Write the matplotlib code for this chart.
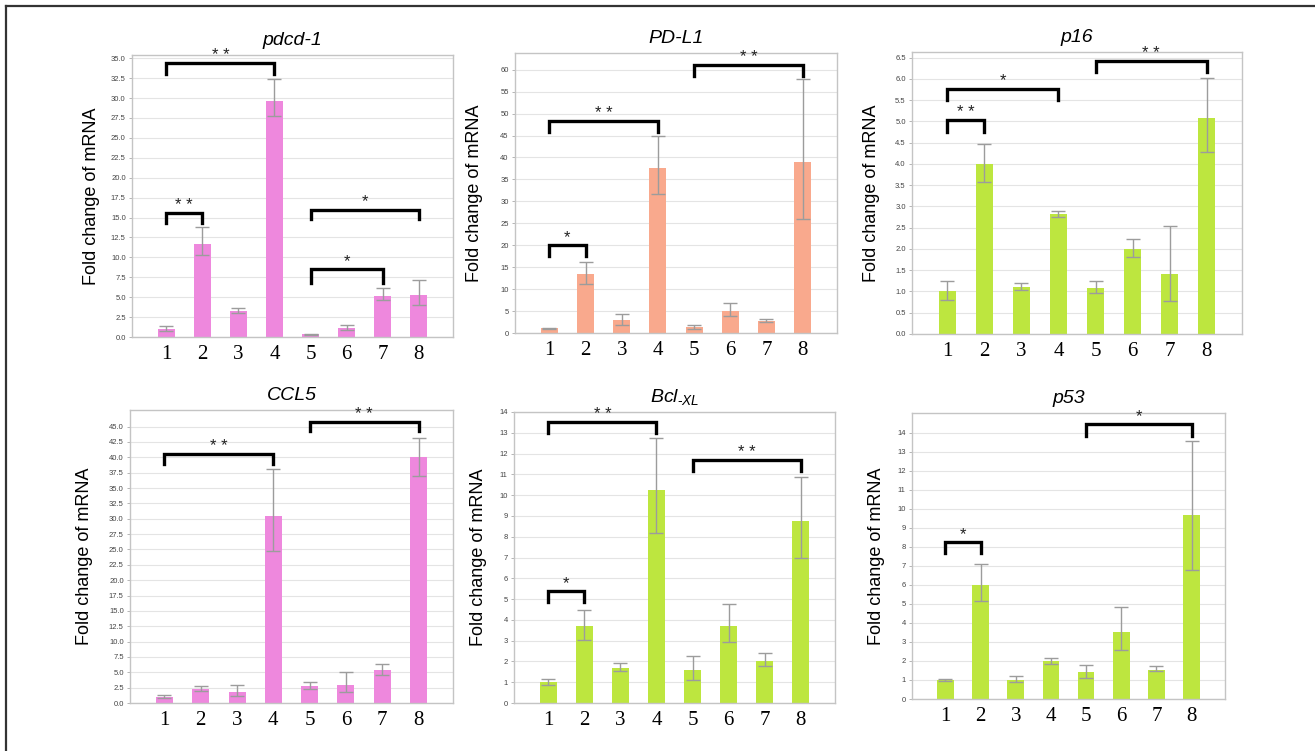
import matplotlib.pyplot as plt
from matplotlib.lines import Line2D
import numpy as np

plt.rcParams['font.family'] = 'Liberation Sans'
plt.rcParams['mathtext.fontset'] = 'custom'
plt.rcParams['mathtext.it'] = 'Liberation Sans:italic'
plt.rcParams['mathtext.rm'] = 'Liberation Sans'

groups = [1, 2, 3, 4, 5, 6, 7, 8]

# mean fold change, upper and lower ends of the error bars
pdcd1 = [1.0, 11.7, 3.25, 29.6, 0.35, 1.15, 5.2, 5.3]
pdcd1_top = [1.35, 13.8, 3.7, 32.4, 0.4, 1.5, 6.1, 7.2]
pdcd1_bot = [0.8, 10.3, 3.0, 27.7, 0.3, 0.9, 4.6, 4.0]

pdl1 = [1.1, 13.4, 2.9, 37.7, 1.3, 5.1, 2.8, 38.9]
pdl1_top = [1.2, 16.2, 4.4, 45.0, 1.75, 6.8, 3.2, 57.9]
pdl1_bot = [1.0, 11.2, 1.9, 31.7, 1.0, 3.8, 2.4, 26.0]

p16 = [1.0, 4.0, 1.1, 2.82, 1.08, 1.99, 1.41, 5.09]
p16_top = [1.25, 4.47, 1.2, 2.9, 1.24, 2.24, 2.53, 6.03]
p16_bot = [0.8, 3.58, 1.04, 2.75, 0.96, 1.8, 0.78, 4.29]

ccl5 = [1.0, 2.3, 1.8, 30.5, 2.7, 3.0, 5.3, 40.0]
ccl5_top = [1.25, 2.8, 2.9, 38.1, 3.5, 5.0, 6.3, 43.2]
ccl5_bot = [0.85, 2.0, 1.2, 24.7, 2.2, 1.8, 4.6, 36.9]

bcl = [0.99, 3.72, 1.68, 10.23, 1.6, 3.72, 2.04, 8.74]
bcl_top = [1.17, 4.49, 1.92, 12.75, 2.25, 4.76, 2.41, 10.87]
bcl_bot = [0.88, 3.05, 1.52, 8.18, 1.12, 2.93, 1.76, 6.98]

p53 = [1.02, 6.02, 1.02, 1.98, 1.42, 3.53, 1.54, 9.67]
p53_top = [1.07, 7.1, 1.19, 2.16, 1.81, 4.84, 1.74, 13.6]
p53_bot = [0.93, 5.14, 0.88, 1.86, 1.1, 2.6, 1.46, 6.8]

# significance brackets: (from group, to group, bracket height, leg end, stars)
pdcd1_sig = [(1, 4, 34.4, 33.0, '**'), (1, 2, 15.6, 14.3, '**'),
             (5, 8, 16.0, 14.8, '*'), (5, 7, 8.5, 6.8, '*')]
pdl1_sig = [(1, 2, 20.1, 17.5, '*'), (1, 4, 48.2, 45.9, '**'), (5, 8, 61.1, 58.6, '**')]
p16_sig = [(1, 2, 5.02, 4.74, '**'), (1, 4, 5.77, 5.5, '*'), (5, 8, 6.42, 6.17, '**')]
ccl5_sig = [(1, 4, 40.6, 38.9, '**'), (5, 8, 45.8, 44.2, '**')]
bcl_sig = [(1, 4, 13.5, 13.0, '**'), (1, 2, 5.4, 4.84, '*'), (5, 8, 11.7, 11.15, '**')]
p53_sig = [(1, 2, 8.26, 7.68, '*'), (5, 8, 14.47, 13.86, '*')]

pink = '#ee88dd'
salmon = '#f9a98d'
green = '#bde63f'

W, H = 1315, 751
fig = plt.figure(figsize=(W / 100, H / 100), dpi=100)

# outer frame (top and left edges only are visible in the crop)
fig.add_artist(Line2D([6 / W, 1], [1 - 6 / H, 1 - 6 / H], color='#333333', lw=1.6))
fig.add_artist(Line2D([6 / W, 6 / W], [0, 1 - 6 / H], color='#333333', lw=1.6))

# panel boxes in pixels: left, top, right, bottom
panels = [
    ('pdcd-1', pdcd1, pdcd1_top, pdcd1_bot, pdcd1_sig, pink, (132, 55, 453, 337),
     35.4, np.arange(0, 35.01, 2.5), '%.1f', -0.10),
    ('PD-L1', pdl1, pdl1_top, pdl1_bot, pdl1_sig, salmon, (515, 53, 837, 333),
     63.8, np.arange(0, 60.1, 5), '%d', -0.10),
    ('p16', p16, p16_top, p16_bot, p16_sig, green, (912, 52, 1242, 334),
     6.63, np.arange(0, 6.51, 0.5), '%.1f', -0.097),
    ('CCL5', ccl5, ccl5_top, ccl5_bot, ccl5_sig, pink, (130, 410, 453, 703),
     47.7, np.arange(0, 45.01, 2.5), '%.1f', -0.115),
    ('Bcl$_{\u2010XL}$', bcl, bcl_top, bcl_bot, bcl_sig, green, (514, 412, 835, 703),
     14.0, np.arange(0, 14.01, 1), '%d', -0.084),
    ('p53', p53, p53_top, p53_bot, p53_sig, green, (912, 413, 1225, 699),
     15.05, np.arange(0, 14.01, 1), '%d', -0.086),
]

for title, vals, top, bot, sig, color, box, ymax, yticks, fmt, lab_x in panels:
    l, t, r, b = box
    ax = fig.add_axes([l / W, 1 - b / H, (r - l) / W, (b - t) / H])
    vals = np.array(vals)
    yerr = [vals - np.array(bot), np.array(top) - vals]
    ax.bar(groups, vals, width=0.47, color=color, zorder=2)
    ax.errorbar(groups, vals, yerr=yerr, fmt='none', ecolor='#9c9c9c',
                elinewidth=1.0, capsize=5, capthick=1.0, zorder=3)
    for x1, x2, yt, yl, stars in sig:
        ax.plot([x1, x1, x2, x2], [yl, yt, yt, yl], color='black', lw=2.4,
                solid_joinstyle='miter', zorder=4)
        ax.annotate(stars.replace('**', '* *'), ((x1 + x2) / 2, yt), xytext=(0, 0),
                    textcoords='offset points', ha='center', va='bottom',
                    fontsize=12, color='#222222')
    ax.set_xlim(0.05, 8.95)
    ax.set_ylim(0, ymax)
    ax.set_yticks(yticks)
    ax.set_yticklabels([fmt % v for v in yticks], fontsize=5.5, color='#444444')
    ax.set_xticks(groups)
    ax.set_xticklabels([str(g) for g in groups], fontfamily='Liberation Serif', fontsize=15)
    ax.tick_params(axis='x', length=0, pad=6)
    ax.tick_params(axis='y', length=2.5, width=0.6, color='#aaaaaa', pad=2)
    ax.grid(axis='y', color='#e4e4e4', lw=0.8, zorder=0)
    ax.set_axisbelow(True)
    for s in ax.spines.values():
        s.set_color('#c4c4c4')
        s.set_linewidth(1.0)
    ax.set_title(title, fontstyle='italic', fontsize=14, pad=7)
    ax.set_ylabel('Fold change of mRNA', fontsize=13)
    ax.yaxis.set_label_coords(lab_x, 0.5)

fig.savefig('out.png', dpi=100)
